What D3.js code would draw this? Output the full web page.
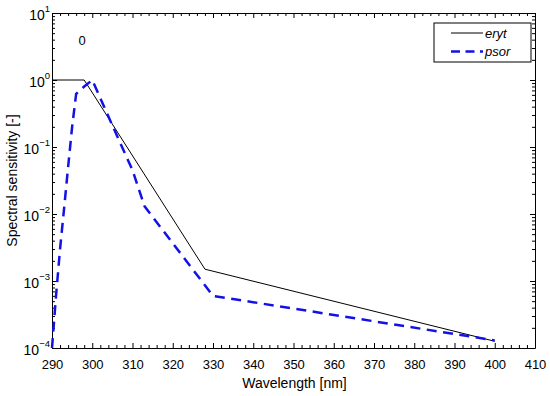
<!DOCTYPE html>
<html lang="en">
<head>
    <meta charset="UTF-8">
    <title>Spectral sensitivity</title>
    <script src="https://d3js.org/d3.v7.min.js"></script>
    <style>
        body {
            margin: 0;
            background: white;
        }

        text {
            font-family: "Liberation Sans", Arial, sans-serif;
            fill: black;
        }

        .axis path,
        .axis line {
            stroke: black;
            stroke-width: 1;
        }
    </style>
</head>
<body>
    <svg id="chart" width="550" height="396"></svg>
    <script>
        // data
        const erytWavelength = [290, 298, 328, 400];
        const erytValue = [1, 1, 1.5e-3, 1.26e-4];

        const psorWavelength = [290, 291, 292, 293, 294, 295, 296, 298, 300, 305, 310, 313, 330, 400];
        const psorValue = [1e-4, 6e-4, 3e-3, 0.012, 0.05, 0.2, 0.62, 0.8, 1.0, 0.21, 0.045, 0.013, 6e-4, 1.3e-4];

        const xTicks = [290, 300, 310, 320, 330, 340, 350, 360, 370, 380, 390, 400, 410];
        const yExponents = [-4, -3, -2, -1, 0, 1];

        const seriesNames = ["eryt", "psor"];

        const margin = { left: 52, right: 15, top: 13, bottom: 48 };
        const width = 550;
        const height = 396;
        const plotW = width - margin.left - margin.right;
        const plotH = height - margin.top - margin.bottom;

        const svg = d3.select("#chart");

        const x = d3.scaleLinear().domain([290, 410]).range([0, plotW]);
        const y = d3.scaleLog().domain([1e-4, 1e1]).range([plotH, 0]);

        const g = svg.append("g")
            .attr("transform", `translate(${margin.left},${margin.top})`);

        // minor ticks
        const xMinor = d3.range(290, 411, 2).filter(d => d % 10 !== 0);
        const yMinor = [];
        yExponents.slice(0, -1).forEach(e => {
            for (let k = 2; k <= 9; k++) yMinor.push(k * Math.pow(10, e));
        });

        g.append("g")
            .attr("class", "axis")
            .attr("transform", `translate(0,${plotH})`)
            .call(d3.axisBottom(x).tickValues(xTicks).tickSize(-5).tickSizeOuter(0).tickPadding(12).tickFormat(d3.format("d")))
            .call(a => a.selectAll("text").attr("font-size", 13).attr("font-family", "Liberation Sans, Arial, sans-serif"));

        g.append("g")
            .attr("class", "axis")
            .attr("transform", `translate(0,${plotH})`)
            .call(d3.axisBottom(x).tickValues(xMinor).tickSize(-3).tickSizeOuter(0).tickFormat(""))
            .call(a => a.select(".domain").remove());

        g.append("g")
            .attr("class", "axis")
            .call(d3.axisTop(x).tickValues(xTicks).tickSize(-5).tickSizeOuter(0).tickFormat(""));

        g.append("g")
            .attr("class", "axis")
            .call(d3.axisTop(x).tickValues(xMinor).tickSize(-3).tickSizeOuter(0).tickFormat(""))
            .call(a => a.select(".domain").remove());

        const yMajor = yExponents.map(e => Math.pow(10, e));

        g.append("g")
            .attr("class", "axis")
            .call(d3.axisLeft(y).tickValues(yMajor).tickSize(-5).tickSizeOuter(0).tickFormat(""));

        g.append("g")
            .attr("class", "axis")
            .call(d3.axisLeft(y).tickValues(yMinor).tickSize(-3).tickSizeOuter(0).tickFormat(""))
            .call(a => a.select(".domain").remove());

        g.append("g")
            .attr("class", "axis")
            .attr("transform", `translate(${plotW},0)`)
            .call(d3.axisRight(y).tickValues(yMajor).tickSize(-5).tickSizeOuter(0).tickFormat(""));

        g.append("g")
            .attr("class", "axis")
            .attr("transform", `translate(${plotW},0)`)
            .call(d3.axisRight(y).tickValues(yMinor).tickSize(-3).tickSizeOuter(0).tickFormat(""))
            .call(a => a.select(".domain").remove());

        // y labels as 10^k
        const yLab = g.append("g").selectAll("text")
            .data(yExponents)
            .enter().append("text")
            .attr("x", -2)
            .attr("y", e => y(Math.pow(10, e)) + 6.5)
            .attr("text-anchor", "end")
            .attr("font-size", 14);
        yLab.append("tspan").text("10");
        yLab.append("tspan")
            .attr("dy", -7.5)
            .attr("font-size", 9.5)
            .text(e => e < 0 ? "\u2212" + Math.abs(e) : e);

        // lines
        const line = d3.line()
            .x(d => x(d[0]))
            .y(d => y(d[1]));

        const eryt = erytWavelength.map((w, i) => [w, erytValue[i]]);
        const psor = psorWavelength.map((w, i) => [w, psorValue[i]]);

        g.append("path")
            .datum(eryt)
            .attr("fill", "none")
            .attr("stroke", "black")
            .attr("stroke-width", 1)
            .attr("d", line);

        g.append("path")
            .datum(psor)
            .attr("fill", "none")
            .attr("stroke", "#1212e6")
            .attr("stroke-width", 2.5)
            .attr("stroke-dasharray", "10,6.5")
            .attr("d", line);

        // axis titles
        svg.append("text")
            .attr("x", margin.left + plotW / 2 + 1)
            .attr("y", 388)
            .attr("text-anchor", "middle")
            .attr("font-size", 14)
            .text("Wavelength [nm]");

        svg.append("text")
            .attr("transform", `translate(17,${margin.top + plotH / 2}) rotate(-90)`)
            .attr("text-anchor", "middle")
            .attr("font-size", 14)
            .text("Spectral sensitivity [-]");

        // panel label
        g.append("text")
            .attr("x", x(297.5))
            .attr("y", 32)
            .attr("text-anchor", "middle")
            .attr("font-size", 13)
            .text("0");

        // legend
        const legend = svg.append("g").attr("transform", "translate(434,23)");
        legend.append("rect")
            .attr("width", 97)
            .attr("height", 39)
            .attr("fill", "white")
            .attr("stroke", "black")
            .attr("stroke-width", 1);

        seriesNames.forEach((name, i) => {
            const ly = 10 + i * 18.5;
            legend.append("line")
                .attr("x1", 17).attr("x2", 49)
                .attr("y1", ly).attr("y2", ly)
                .attr("stroke", i === 0 ? "black" : "#1212e6")
                .attr("stroke-width", i === 0 ? 1 : 2.5)
                .attr("stroke-dasharray", i === 0 ? null : "9,5.5");
            legend.append("text")
                .attr("x", 51)
                .attr("y", ly + 4.5)
                .attr("font-size", 13)
                .attr("font-style", "italic")
                .text(name);
        });
    </script>
</body>
</html>
